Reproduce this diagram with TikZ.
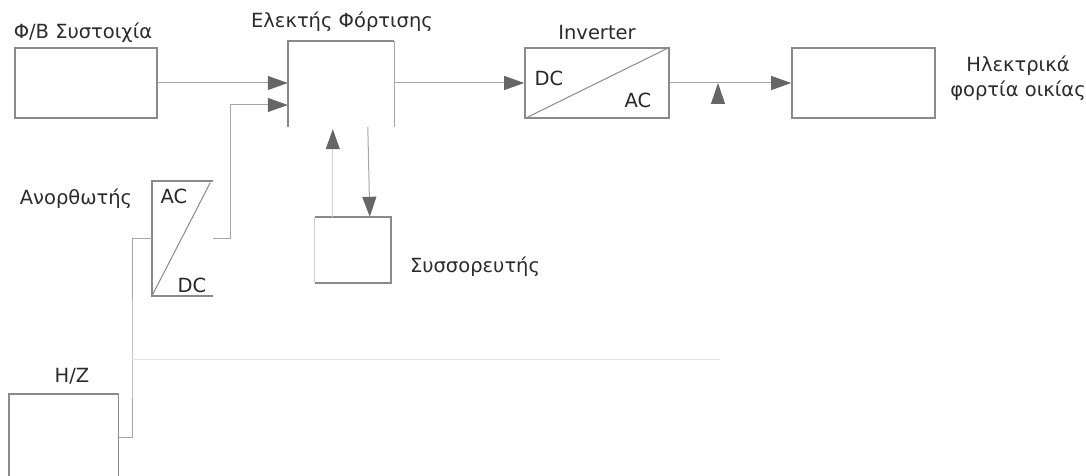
\documentclass[tikz,border=0pt]{standalone}
\usepackage{fontspec}
\setmainfont{DejaVu Sans}
\usepackage{tikz}
\usetikzlibrary{
  arrows.meta,
  positioning,
  calc
}
\definecolor{bkBox}{HTML}{8A8A8A}
\definecolor{bkLine}{HTML}{A6A6A6}
\definecolor{bkFaint}{HTML}{E4E4E4}
\definecolor{bkTip}{HTML}{666666}
\definecolor{bkText}{HTML}{2B2B2B}
\tikzset{
  bknode/.style={
    draw=bkBox, line width=1.6pt, minimum width=142pt, minimum height=70pt, inner sep=0pt
  },
  openbox/.style={draw=none, inner sep=0pt},
  boxline/.style={draw=bkBox, line width=1.6pt},
  wire/.style={draw=bkLine, line width=1pt},
  lightwire/.style={draw=bkLine!50, line width=1pt},
  feed/.style={wire, -{Triangle[length=20pt, width=14pt, color=bkTip]}},
  lightfeed/.style={lightwire, -{Triangle[length=20pt, width=14pt, color=bkTip]}},
  faint/.style={draw=bkFaint, line width=1pt},
  diag/.style={draw=bkBox, line width=1pt},
  tag/.style={font=\fontsize{19.5}{25}\selectfont, text=bkText, inner sep=0pt, align=center},
  dcac/.style={font=\fontsize{19.5}{22}\selectfont, text=black!85, inner sep=0pt}
}

\begin{document}
\begin{tikzpicture}[x=1pt, y=-1pt]
  \useasboundingbox (0,0) rectangle (1086,476);
  \node[bknode] (pv) at (86,83) {};
  \node[openbox, minimum width=106pt, minimum height=86pt] (chg) at (341,84) {};
  \draw[boxline] (chg.south west) |- (chg.north east);
  \draw[wire] (chg.north east) -- (chg.south east);
  \node[bknode, minimum width=144pt] (inv) at (597,83) {};
  \draw[diag] (inv.south west) -- (inv.north east);
  \node[bknode, minimum width=143pt] (load) at (863.5,83) {};
  \node[openbox, minimum width=61pt, minimum height=115pt] (rect) at (182.5,238.5) {};
  \draw[boxline] (rect.south east) -| (rect.north west) -- (rect.north east);
  \draw[diag] (rect.south west) -- ($(rect.north east)+(-3,2)$);
  \node[openbox, minimum width=76pt, minimum height=66pt] (bat) at (353,250) {};
  \draw[boxline] (bat.north west) -| (bat.south east) -- (bat.south west);
  \draw[lightwire] (bat.south west) -- (bat.north west);
  \node[openbox, minimum width=109pt, minimum height=100pt, anchor=north west] (hz) at (9,394) {};
  \draw[boxline] (hz.south west) |- (hz.north east) -- (hz.south east);

  \draw[feed] (pv.east) -- (pv.east -| chg.west);
  \draw[feed] (rect.east) -- ++(17,0) |- ($(chg.west)+(0,21)$);
  \draw[feed] (chg.east |- inv.west) -- (inv.west);
  \draw[feed] (inv.east) -- (load.west);
  \draw[lightfeed] ($(bat.north west)+(18,0)$) -- ($(chg.south west)+(45,2)$);
  \draw[feed] ($(chg.south west)+(80,0)$) -- ($(bat.north west)+(55,0)$);
  \coordinate (bus) at (132,359);
  \draw[wire] (rect.west) -| (bus) |- ($(hz.north east)+(0,43)$);
  \draw[faint] (bus) -- ++(588,0) coordinate (busEnd);
  \draw[white, line width=1pt, -{Triangle[length=21pt, width=14pt, color=bkTip]}] ($(busEnd)+(-2,0)$) -- ($(busEnd)+(-2,-276)$);

  \node[tag] (pvLbl) at (83,33) {Φ/Β Συστοιχία};
  \node[tag] (chgLbl) at (342,22) {Ελεκτής Φόρτισης};
  \node[tag] (invLbl) at (597,33) {Inverter};
  \node[tag] (loadLbl) at (1018,78) {Ηλεκτρικά\\φορτία οικίας};
  \node[tag] (rectLbl) at (76,199) {Ανορθωτής};
  \node[tag] (batLbl) at (475,267) {Συσσορευτής};
  \node[tag] (hzLbl) at (72,376) {H/Z};
  \node[dcac] (rectAC) at (174,196) {AC};
  \node[dcac] (rectDC) at (192,285) {DC};
  \node[dcac] (invDC) at (549,78) {DC};
  \node[dcac] (invAC) at (638,100) {AC};
\end{tikzpicture}
\end{document}
